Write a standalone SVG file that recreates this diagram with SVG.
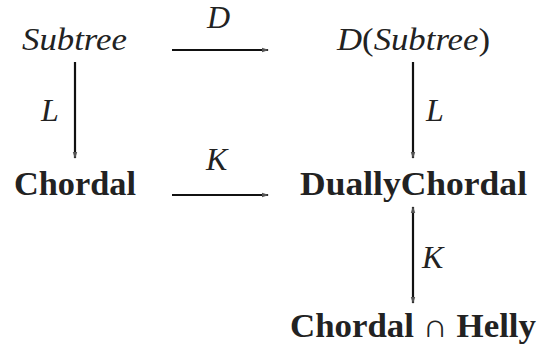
<svg xmlns="http://www.w3.org/2000/svg" width="540" height="349" viewBox="0 0 540 349">
<style>
.m{font-family:"Liberation Serif",serif;font-style:italic;font-size:32px;fill:#222}
.b{font-family:"Liberation Serif",serif;font-weight:bold;font-size:33px;fill:#222}
.u{font-style:normal}
.e{stroke:#111;stroke-width:2.2;fill:none}
</style>
<defs>
<marker id="ah" markerWidth="8" markerHeight="6" refX="6" refY="3" orient="auto" markerUnits="userSpaceOnUse">
<path d="M0,0.8 L7,3 L0,5.2 Z" fill="#555"/>
</marker>
<marker id="as" markerWidth="8" markerHeight="6" refX="2" refY="3" orient="auto" markerUnits="userSpaceOnUse">
<path d="M8,0.8 L1,3 L8,5.2 Z" fill="#555"/>
</marker>
</defs>
<g id="connectors">
<line class="e" x1="172" y1="50" x2="268" y2="50" marker-end="url(#ah)"/>
<text class="m" x="207" y="28">D</text>
<line class="e" x1="75" y1="62" x2="75" y2="158" marker-end="url(#ah)"/>
<text class="m" x="41" y="121">L</text>
<line class="e" x1="413" y1="62" x2="413" y2="158" marker-end="url(#ah)"/>
<text class="m" x="426" y="121">L</text>
<line class="e" x1="172" y1="195" x2="268" y2="195" marker-end="url(#ah)"/>
<text class="m" x="206" y="170">K</text>
<line class="e" x1="413" y1="207" x2="413" y2="303" marker-start="url(#as)" marker-end="url(#ah)"/>
<text class="m" x="422" y="268">K</text>
</g>
<g id="subtree"><text class="m" x="22" y="50" textLength="105" lengthAdjust="spacingAndGlyphs">Subtree</text></g>
<g id="dsubtree"><text class="m" x="337" y="50" textLength="153" lengthAdjust="spacingAndGlyphs">D<tspan class="u">(</tspan>Subtree<tspan class="u">)</tspan></text></g>
<g id="chordal"><text class="b" x="14" y="195" textLength="122" lengthAdjust="spacingAndGlyphs">Chordal</text></g>
<g id="duallychordal"><text class="b" x="300" y="195" textLength="227" lengthAdjust="spacingAndGlyphs">DuallyChordal</text></g>
<g id="chordalhelly"><text class="b" x="290" y="337" textLength="246" lengthAdjust="spacingAndGlyphs">Chordal<tspan font-weight="normal"> ∩ </tspan>Helly</text></g>
</svg>
